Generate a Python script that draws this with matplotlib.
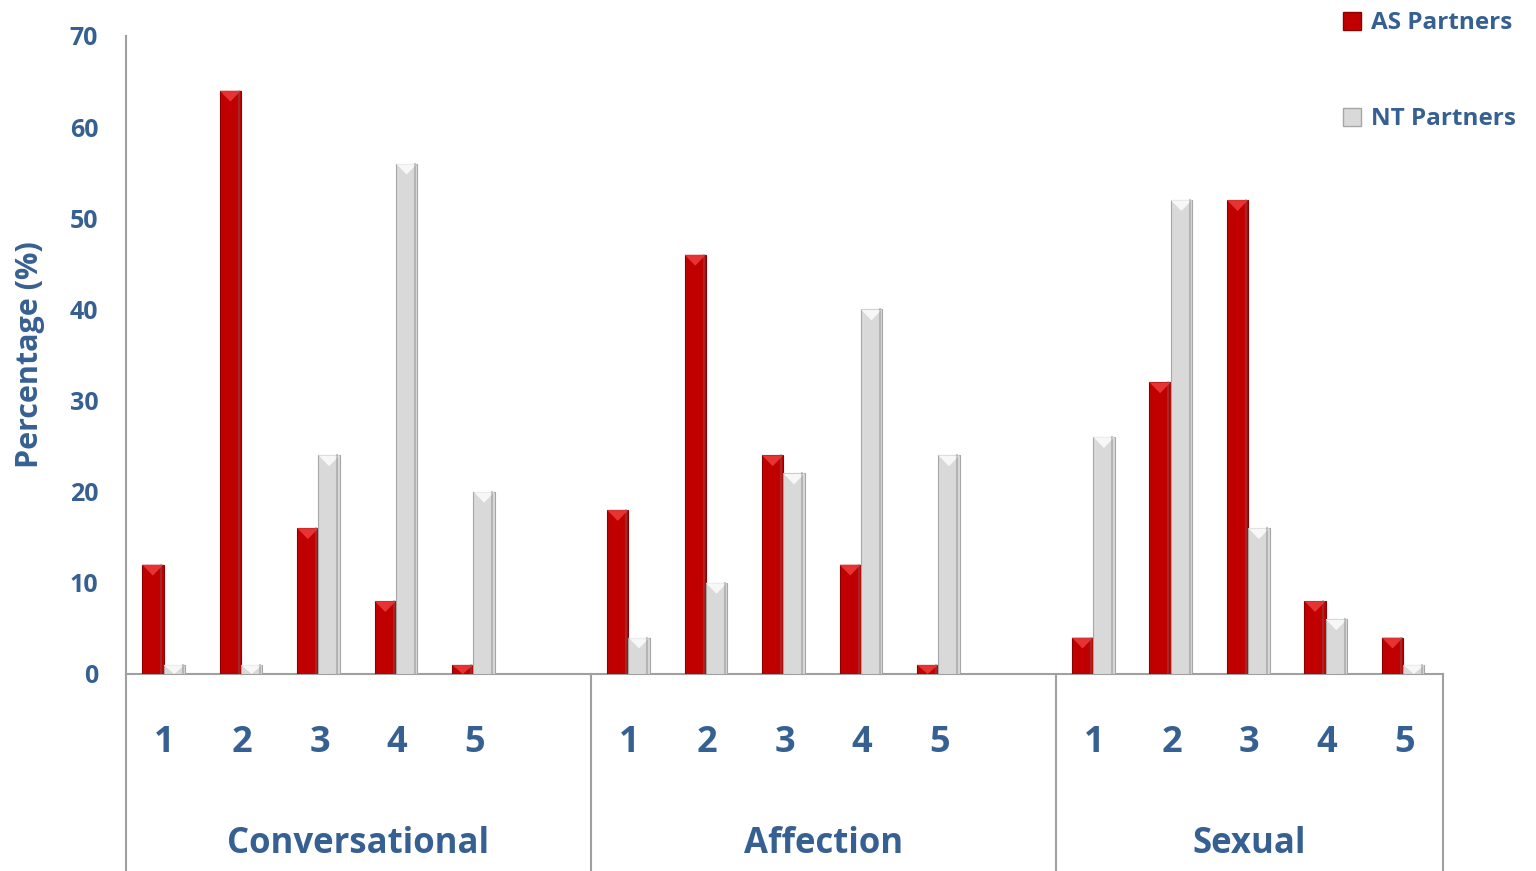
import matplotlib
matplotlib.use('Agg')
import matplotlib.pyplot as plt
import numpy as np
from matplotlib.patches import Polygon, Patch

groups = ["Conversational", "Affection", "Sexual"]
ratings = ["1", "2", "3", "4", "5"]
as_partners = [[12, 64, 16, 8, 1],
               [18, 46, 24, 12, 1],
               [4, 32, 52, 8, 4]]
nt_partners = [[1, 1, 24, 56, 20],
               [4, 10, 22, 40, 24],
               [26, 52, 16, 6, 1]]

blue = "#376092"
red = "#C00000"
gray = "#D9D9D9"
plt.rcParams['font.family'] = ['Open Sans', 'DejaVu Sans']
plt.rcParams['font.weight'] = 'bold'

fig = plt.figure(figsize=(15.36, 8.71), dpi=100)
ax = fig.add_axes([0.082, 0.2262, 0.8575, 0.7325])

# slot positions: 6 slots per group (5 ratings + gap), last group has no gap
centers = []
for g in range(len(groups)):
    for r in range(len(ratings)):
        centers.append(g * 6 + r + 0.5)
centers = np.array(centers)
as_vals = np.array(as_partners).ravel()
nt_vals = np.array(nt_partners).ravel()

w = 0.275
b1 = ax.bar(centers - 0.29, as_vals, w, align='edge', color=red, edgecolor="#8B0000", linewidth=0.8, zorder=3)
b2 = ax.bar(centers - 0.015, nt_vals, w, align='edge', color=gray, edgecolor="#A6A6A6", linewidth=0.8, zorder=3)

# bevel-ish highlight at the top of each bar
for bars, hi in ((b1, "#F04040"), (b2, "#FFFFFF")):
    for b in bars:
        x0, wd, h = b.get_x(), b.get_width(), b.get_height()
        th = min(1.2, h)
        tri = Polygon([[x0, h], [x0 + wd, h], [x0 + wd / 2, h - th]], closed=True,
                      facecolor=hi, edgecolor='none', alpha=0.8, zorder=4)
        ax.add_patch(tri)
        ax.plot([x0 + wd - 0.03, x0 + wd - 0.03], [0, h], color="#707070", alpha=0.35, lw=1.5, zorder=4)

ax.set_xlim(0, 17)
ax.set_ylim(0, 70)
ax.set_yticks(range(0, 71, 10))
ax.tick_params(axis='y', length=0, pad=20, labelsize=18, labelcolor=blue)
ax.set_xticks(centers)
ax.set_xticklabels(ratings * 3)
ax.tick_params(axis='x', length=0, pad=37, labelsize=26, labelcolor=blue)
for lab in ax.get_xticklabels() + ax.get_yticklabels():
    lab.set_fontweight('bold')

for s in ['top', 'right']:
    ax.spines[s].set_visible(False)
for s in ['left', 'bottom']:
    ax.spines[s].set_color("#A0A0A0")
    ax.spines[s].set_linewidth(1.5)

trans = ax.get_xaxis_transform()
for xs in [0, 6, 12, 17]:
    ax.plot([xs, xs], [0, -0.32], color="#A0A0A0", lw=1.5, transform=trans, clip_on=False)
group_mid = [3, 9, 14.5]
for g, name in enumerate(groups):
    ax.text(group_mid[g], -0.267, name, transform=trans, ha='center', va='center',
            fontsize=25, fontweight='bold', color=blue)

ax.set_ylabel("Percentage (%)", fontsize=22, fontweight='bold', color=blue, labelpad=18)

handles = [Patch(facecolor=red, edgecolor="#8B0000"), Patch(facecolor=gray, edgecolor="#A6A6A6")]
leg = fig.legend(handles, ["AS Partners", "NT Partners"], loc='upper left',
                 bbox_to_anchor=(0.86, 1.012), frameon=False, fontsize=17.5,
                 handlelength=0.75, handleheight=0.75, handletextpad=0.4, labelspacing=2.95)
for t in leg.get_texts():
    t.set_color(blue)
    t.set_fontweight('bold')

fig.savefig("out.png", dpi=100)
